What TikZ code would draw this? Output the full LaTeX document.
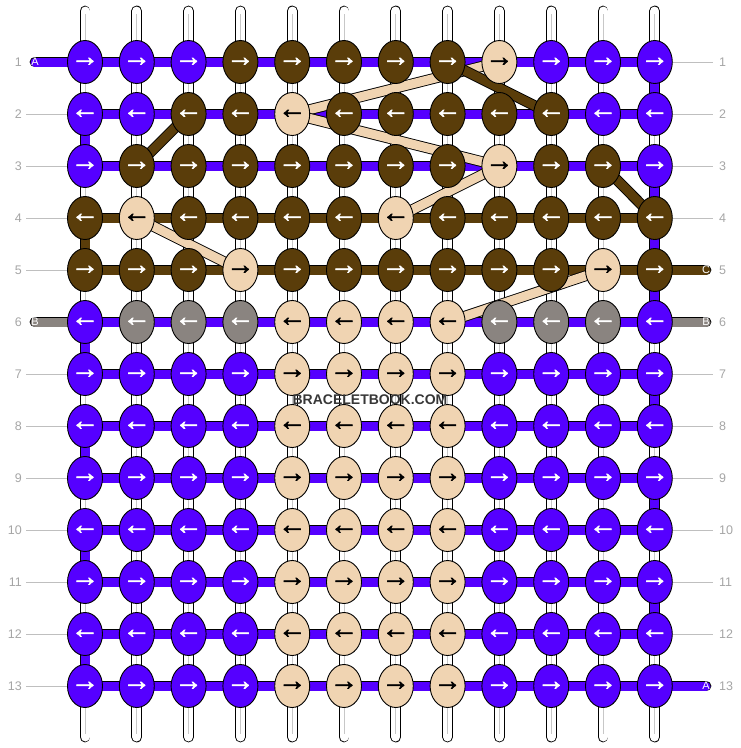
\documentclass[tikz,border=0pt]{standalone}
\usepackage{fontspec}
\setmainfont{Liberation Sans}
\newfontfamily\arrowfont{Liberation Sans}[FakeBold=2.2]
\usetikzlibrary{shapes.geometric}
\definecolor{vio}{RGB}{85,0,255}
\definecolor{brn}{RGB}{90,61,10}
\definecolor{lgt}{RGB}{240,212,178}
\definecolor{gry}{RGB}{138,132,128}
\definecolor{lbl}{RGB}{165,165,165}
\definecolor{wmk}{RGB}{55,55,55}
\pgfdeclarelayer{bg}
\pgfsetlayers{bg,main}

\begin{document}
\begin{tikzpicture}[x=1pt,y=-1pt,
        knot/.style={ellipse, draw=black, line width=0.9pt, minimum width=35pt, minimum height=43pt, inner sep=0pt},
        arw/.style={inner sep=0pt, text=white, font=\arrowfont\bfseries\fontsize{28}{28}\selectfont},
        kv/.style={knot, fill=vio, label={[arw]center:#1}},
        kb/.style={knot, fill=brn, label={[arw]center:#1}},
        kg/.style={knot, fill=gry, label={[arw]center:#1}},
        kt/.style={knot, fill=lgt, label={[arw, text=black]center:#1}},
        band/.style={draw=black, line width=0.9pt, double=#1, double distance=9pt},
        pipe/.style={draw=black, line width=0.9pt, double=white, double distance=9pt, line cap=round},
        pipeln/.style={draw=black!22, line width=0.8pt, shorten <=3pt, shorten >=3pt},
        num/.style={text=lbl, inner sep=0pt, font=\fontsize{12.5}{12.5}\selectfont},
        numln/.style={draw=black!25, line width=0.8pt},
        tabtxt/.style={text=white, inner sep=0pt, font=\fontsize{11}{11}\selectfont}]
            \useasboundingbox (0,0) rectangle (740,748);
            \foreach \c in {1,...,12} {
                \coordinate (top-\c) at ({85+51.8*(\c-1)},11);
                \coordinate (bot-\c) at ({85+51.8*(\c-1)},737);
            }
            \foreach \c/\s in {1/kv,2/kv,3/kv,4/kb,5/kb,6/kb,7/kb,8/kb,9/kt,10/kv,11/kv,12/kv}
                \node[\s=→] (k-1-\c) at ({85+51.8*(\c-1)},62) {};
            \foreach \c/\s in {1/kv,2/kv,3/kb,4/kb,5/kt,6/kb,7/kb,8/kb,9/kb,10/kb,11/kv,12/kv}
                \node[\s=←] (k-2-\c) at ({85+51.8*(\c-1)},114) {};
            \foreach \c/\s in {1/kv,2/kb,3/kb,4/kb,5/kb,6/kb,7/kb,8/kb,9/kt,10/kb,11/kb,12/kv}
                \node[\s=→] (k-3-\c) at ({85+51.8*(\c-1)},166) {};
            \foreach \c/\s in {1/kb,2/kt,3/kb,4/kb,5/kb,6/kb,7/kt,8/kb,9/kb,10/kb,11/kb,12/kb}
                \node[\s=←] (k-4-\c) at ({85+51.8*(\c-1)},218) {};
            \foreach \c/\s in {1/kb,2/kb,3/kb,4/kt,5/kb,6/kb,7/kb,8/kb,9/kb,10/kb,11/kt,12/kb}
                \node[\s=→] (k-5-\c) at ({85+51.8*(\c-1)},270) {};
            \foreach \c/\s in {1/kv,2/kg,3/kg,4/kg,5/kt,6/kt,7/kt,8/kt,9/kg,10/kg,11/kg,12/kv}
                \node[\s=←] (k-6-\c) at ({85+51.8*(\c-1)},322) {};
            \foreach \r/\a in {7/→,8/←,9/→,10/←,11/→,12/←,13/→}
                \foreach \c/\s in {1/kv,2/kv,3/kv,4/kv,5/kt,6/kt,7/kt,8/kt,9/kv,10/kv,11/kv,12/kv}
                    \node[\s=\a] (k-\r-\c) at ({85+51.8*(\c-1)},{62+52*(\r-1)}) {};
            \foreach \r in {1,...,13} {
                \node[num, anchor=east] (nl-\r) at (22,{62+52*(\r-1)}) {\r};
                \node[num, anchor=west] (nr-\r) at (719,{62+52*(\r-1)}) {\r};
            }
            \node[tabtxt] (tA-l) at (35,62) {A};
            \node[tabtxt] (tB-l) at (35,322) {B};
            \node[tabtxt] (tC-r) at (706,270) {C};
            \node[tabtxt] (tB-r) at (706,322) {B};
            \node[tabtxt] (tA-r) at (706,686) {A};
            \node[text=wmk, inner sep=0pt, font=\bfseries\fontsize{14}{14}\selectfont] (wm) at (370,400) {BRACELETBOOK.COM};
            \begin{pgfonlayer}{bg}
                \foreach \c in {1,...,12} {
                    \draw[pipe] (top-\c) -- (bot-\c);
                    \draw[pipeln] (top-\c) -- (bot-\c);
                }
                \foreach \r/\f in {1/vio,2/vio,3/vio,4/brn,5/brn,6/vio,7/vio,8/vio,9/vio,10/vio,11/vio,12/vio,13/vio}
                    \draw[band=\f] (k-\r-1.center) -- (k-\r-12.center);
                \foreach \a/\b/\f in {2/3/vio,4/5/brn,6/7/vio,8/9/vio,10/11/vio,12/13/vio}
                    \draw[band=\f] (k-\a-1.center) -- (k-\b-1.center);
                \foreach \a/\b in {1/2,3/4,4/5,5/6,7/8,9/10,11/12}
                    \draw[band=vio] (k-\a-12.center) -- (k-\b-12.center);
                \draw[band=lgt] (k-1-9.center) -- (k-2-5.center);
                \draw[band=lgt] (k-2-5.center) -- (k-3-9.center);
                \draw[band=lgt] (k-3-9.center) -- (k-4-7.center);
                \draw[band=lgt] (k-4-2.center) -- (k-5-4.center);
                \draw[band=lgt] (k-5-11.center) -- (k-6-8.center);
                \draw[band=brn] (k-1-8.center) -- (k-2-10.center);
                \draw[band=brn] (k-2-3.center) -- (k-3-2.center);
                \draw[band=brn] (k-3-11.center) -- (k-4-12.center);
                \draw[band=vio, line cap=round] (k-1-1.center) -- (tA-l.center);
                \draw[band=gry, line cap=round] (k-6-1.center) -- (tB-l.center);
                \draw[band=brn, line cap=round] (k-5-12.center) -- (tC-r.center);
                \draw[band=gry, line cap=round] (k-6-12.center) -- (tB-r.center);
                \draw[band=vio, line cap=round] (k-13-12.center) -- (tA-r.center);
                \foreach \r in {2,3,4,5,7,8,9,10,11,12,13}
                    \draw[numln, shorten <=4pt] (nl-\r) -- (k-\r-1);
                \foreach \r in {1,2,3,4,7,8,9,10,11,12}
                    \draw[numln, shorten >=6pt] (k-\r-12) -- (nr-\r);
            \end{pgfonlayer}
\end{tikzpicture}
\end{document}
